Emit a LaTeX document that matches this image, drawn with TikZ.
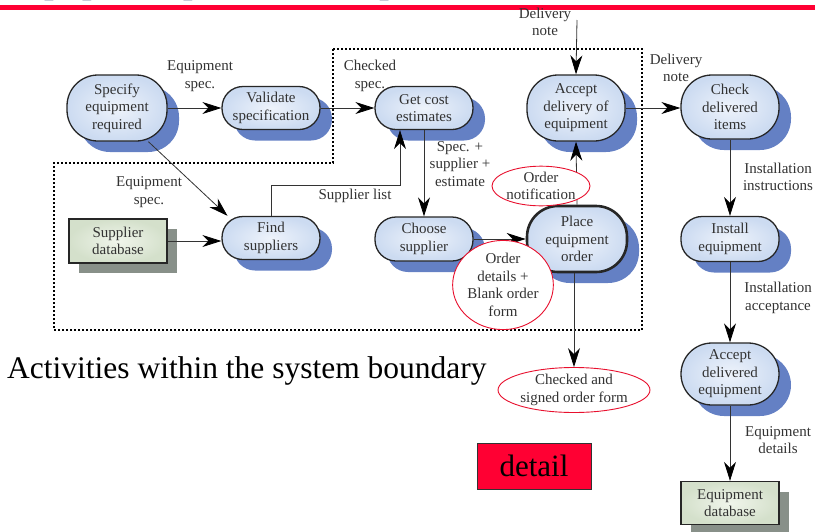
\documentclass[tikz,border=0pt]{standalone}
\usepackage{fontspec}
\setmainfont{Liberation Serif}
\usetikzlibrary{arrows.meta,shapes.geometric,shadows}

\definecolor{txt}{RGB}{50,50,50}
\definecolor{procin}{RGB}{238,243,251}
\definecolor{procout}{RGB}{204,219,241}
\definecolor{shadowblue}{RGB}{100,128,196}
\definecolor{storein}{RGB}{240,245,235}
\definecolor{storeout}{RGB}{212,224,203}
\definecolor{storeshadow}{RGB}{136,144,137}
\definecolor{notered}{RGB}{232,16,46}
\definecolor{barred}{RGB}{255,0,51}
\definecolor{navy}{RGB}{22,32,92}

\begin{document}
\begin{tikzpicture}[x=1pt,y=-1pt,
  lbl/.style={font=\fontsize{15}{17.5}\selectfont, text=txt, align=center, inner sep=0pt},
  proc/.style={lbl, draw=black!85, line width=1.3pt, rounded corners=21pt,
    minimum width=98pt, minimum height=43pt,
    shade, inner color=procin, outer color=procout,
    drop shadow={shadow xshift=12pt, shadow yshift=-11pt, fill=shadowblue, opacity=1}},
  tall/.style={proc, rounded corners=31pt, minimum height=66pt},
  store/.style={lbl, draw=black!85, line width=1.3pt,
    minimum width=98pt, minimum height=44pt,
    shade, inner color=storein, outer color=storeout,
    drop shadow={shadow xshift=10pt, shadow yshift=-10pt, fill=storeshadow, opacity=1}},
  note/.style={lbl, ellipse, draw=notered, line width=0.9pt, fill=white},
  flow/.style={draw=black!80, line width=0.8pt,
    -{Stealth[length=19pt,width=12pt,inset=6pt,fill=black,color=black]}},
  boundary/.style={draw=black, line width=1.1pt, dash pattern=on 2pt off 2pt}]

\useasboundingbox (0,0) rectangle (815,531);
\clip (0,0) rectangle (815,531);

% slide header: title (mostly above the page) and red rule
\node[anchor=base west, inner sep=0pt, text=navy,
      font=\bfseries\fontsize{34}{40}\selectfont] (title) at (12,-6.8) {Equipment procurement process};
\fill[barred] (0,5) rectangle (815,10);

% system boundary
\draw[boundary] (333,49) -- (642,49) -- (642,330) -- (54,330) -- (54,163) -- (333,163) -- cycle;

% activities
\node[tall, minimum width=100pt] (spec)  at (117,108) {Specify\\equipment\\required};
\node[proc] (val)   at (271,108) {Validate\\specification};
\node[proc] (cost)  at (424,108) {Get cost\\estimates};
\node[tall] (accd)  at (576,108) {Accept\\delivery of\\equipment};
\node[tall, minimum height=64pt] (check) at (730,107) {Check\\delivered\\items};
\node[proc] (find)  at (271,238) {Find\\suppliers};
\node[proc, minimum height=44pt] (choose) at (424,239) {Choose\\supplier};
\node[tall, line width=2.6pt, minimum width=100pt] (place) at (577,239) {Place\\equipment\\order};
\node[proc, minimum height=45pt] (inst) at (730,239) {Install\\equipment};
\node[tall, minimum height=62pt] (accp) at (730,374) {Accept\\delivered\\equipment};

% data stores
\node[store] (sdb) at (118,241) {Supplier\\database};
\node[store, minimum height=43pt] (edb) at (730,503) {Equipment\\database};

% flows
\draw[flow] (spec.-47) -- (find.153);
\draw[flow] (spec.east) -- (val.west);
\draw[flow] (val.east) -- (cost.west);
\draw[flow] (sdb.east) -- (find.west |- sdb.east);
\coordinate (sl) at (400,185);
\draw[flow] (find.north) |- (sl) -- (sl |- cost.south);
\draw[flow] (cost.south) -- (choose.north);
\draw[flow] (choose.east) -- (place.west |- choose.east);
\draw[flow] (place.north) -- (accd.south);
\coordinate (dn) at (577,20);
\draw[flow] (dn) -- (accd.north);
\draw[flow] (accd.east) -- (check.west |- accd.east);
\draw[flow] (check.south) -- (inst.north);
\draw[flow] (inst.south) -- (accp.north);
\draw[flow] (accp.south) -- (edb.north);

% documents and notes
\node[note, minimum width=136pt, minimum height=45pt] (cso) at (574,390) {Checked and\\signed order form};
\draw[flow] (cso.north |- place.south) -- (cso.north);
\node[note, minimum width=98pt, minimum height=38pt] (onote) at (541,186) {Order\\notification};
\node[note, minimum width=100pt, minimum height=72pt] (odet) at (503,285) {Order\\details +\\Blank order\\form};

% flow labels
\node[lbl] (l1) at (200,76) {Equipment\\spec.};
\node[lbl] (l2) at (370,76) {Checked\\spec.};
\node[lbl] (l3) at (149,192) {Equipment\\spec.};
\node[lbl] (l4) at (355,196) {Supplier list};
\node[lbl] (l5) at (460,164) {Spec. +\\supplier +\\estimate};
\node[lbl] (l6) at (545,22) {Delivery\\note};
\node[lbl] (l7) at (676,68) {Delivery\\note};
\node[lbl] (l8) at (778,177) {Installation\\instructions};
\node[lbl] (l9) at (778,298) {Installation\\acceptance};
\node[lbl] (l10) at (778,440) {Equipment\\details};

% captions
\node[anchor=base west, inner sep=0pt, font=\fontsize{31.5}{36}\selectfont] (cap) at (7,378)
  {Activities within the system boundary};
\node[draw=black!80, line width=0.8pt, fill=barred, minimum width=114pt, minimum height=46pt,
      inner sep=0pt, font=\fontsize{31}{36}\selectfont] (det) at (534,466) {detail};
\end{tikzpicture}
\end{document}
